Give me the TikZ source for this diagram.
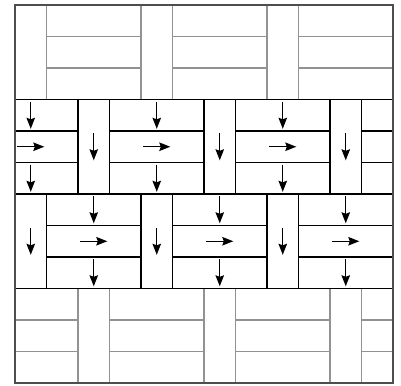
\documentclass[tikz,border=0pt]{standalone}
\usetikzlibrary{arrows.meta}
\definecolor{plankgray}{HTML}{929292}
\definecolor{framegray}{HTML}{4E4E4E}
\tikzset{
  grayline/.style={draw=plankgray,line width=1.1pt},
  blackline/.style={draw=black,line width=1.2pt},
  flowarrow/.style={draw=black,line width=1.2pt,-{Stealth[length=11pt,width=8.5pt,inset=1.5pt]}},
  frameline/.style={draw=framegray,line width=1.3pt}
}
\begin{document}
\begin{tikzpicture}[x=1pt,y=1pt]
\useasboundingbox (0,0) rectangle (401,-385);
\begin{scope}[shift={(15,-5)},x=31.5pt,y=-31.5pt]
  \begin{scope}
    \clip (0,0) rectangle (12,12);
    \foreach \b/\o/\c in {0/0/grayline,3/2/grayline,1/2/blackline,2/0/blackline}{
      \foreach \k in {-1,...,3}{
        \pgfmathsetmacro\xa{\o+4*\k}
        \draw[\c] (\xa,3*\b) rectangle ++(1,3);
        \foreach \j in {0,1,2}{
          \draw[\c] (\xa+1,3*\b+\j) rectangle ++(3,1);
        }
      }
    }
    \foreach \b/\o in {1/2,2/0}{
      \foreach \k in {-1,...,3}{
        \pgfmathsetmacro\xv{\o+4*\k+0.5}
        \pgfmathsetmacro\xh{\o+4*\k+2.5}
        \draw[flowarrow] (\xv,3*\b+1.07) -- ++(0,0.86);
        \draw[flowarrow] (\xh,3*\b+0.07) -- ++(0,0.86);
        \draw[flowarrow] (\xh-0.43,3*\b+1.5) -- ++(0.86,0);
        \draw[flowarrow] (\xh,3*\b+2.07) -- ++(0,0.86);
      }
    }
  \end{scope}
  \draw[frameline] (0,0) rectangle (12,12);
\end{scope}
\end{tikzpicture}
\end{document}
